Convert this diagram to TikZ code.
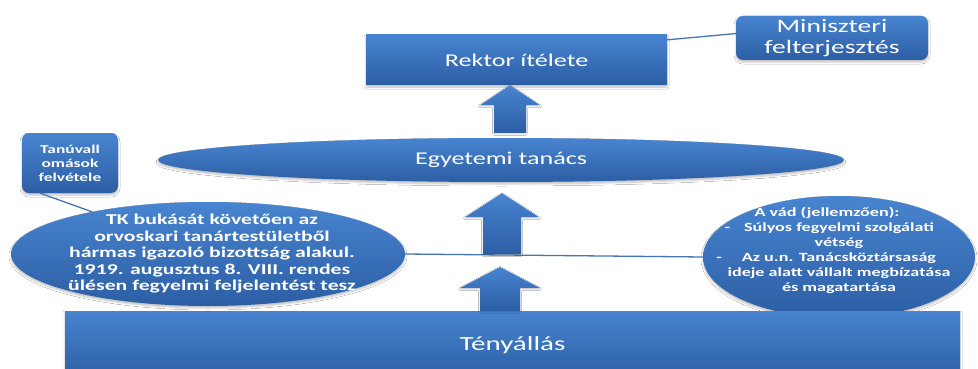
\documentclass[tikz,border=0pt]{standalone}
\usepackage{fontspec}
\setmainfont{Carlito}[FakeStretch=1.45]
\usetikzlibrary{calc,shapes.geometric,shadows.blur}

\definecolor{boxtop}{RGB}{72,132,208}
\definecolor{boxbottom}{RGB}{44,94,164}
\definecolor{linkblue}{RGB}{70,118,178}

\tikzset{
  panel/.style={top color=boxtop, bottom color=boxbottom, draw=none, text=white,
    blur shadow={shadow xshift=0pt, shadow yshift=-2pt, shadow blur radius=2pt, shadow opacity=25}},
  flatbox/.style={panel, rectangle, inner sep=0pt},
  roundbox/.style={panel, rectangle, rounded corners=7pt, inner sep=0pt},
  oval/.style={panel, ellipse, inner sep=0pt},
  inside/.style={text=white, align=center, inner sep=0pt},
  link/.style={draw=linkblue, line width=1.3pt},
  uparrow/.style={top color=boxtop, bottom color=boxbottom, draw=none,
    blur shadow={shadow xshift=0pt, shadow yshift=-1pt, shadow blur radius=1.5pt, shadow opacity=20}}
}

% block arrow: tip, foot, head length, head half width, shaft half width
\newcommand{\blockup}[5]{%
  \path[uparrow] (#1) -- ($(#1)+(#4,#3)$) -- ($(#1)+(#5,#3)$) -- ($(#2)+(#5,0)$)
    -- ($(#2)+(-#5,0)$) -- ($(#1)+(-#5,#3)$) -- ($(#1)+(-#4,#3)$) -- cycle;}

\begin{document}
\begin{tikzpicture}[x=1pt, y=-1pt]

% Frame of the picture
\useasboundingbox[fill=white] (0,0) rectangle (978,369);
\clip (0,0) rectangle (978,369);

% Boxes and ovals
\node[flatbox, minimum width=301pt, minimum height=50pt, font=\fontsize{18}{20}\selectfont] (rektor) at (516.5,60) {Rektor ítélete};
\node[roundbox, minimum width=192pt, minimum height=44pt, font=\fontsize{19}{21}\selectfont, align=center] (minis) at (832,38) {Miniszteri\\felterjesztés};
\node[oval, minimum width=686pt, minimum height=44pt, font=\fontsize{18}{20}\selectfont] (tanacs) at (501,160) {Egyetemi tanács};
\node[roundbox, minimum width=96pt, minimum height=60pt, font=\bfseries\fontsize{12}{14}\selectfont, align=center] (tanu) at (70,163) {Tanúvall\\omások\\felvétele};

\node[oval, minimum width=394pt, minimum height=104pt] (bizottsag) at (208,254) {};
\node[inside, font=\bfseries\fontsize{15}{16.5}\selectfont] (bizottsagszoveg) at (212,254)
  {TK bukását követően az\\orvoskari tanártestületből\\hármas igazoló bizottság alakul.\\1919. augusztus 8. VIII. rendes\\ülésen fegyelmi feljelentést tesz};

\node[oval, minimum width=272pt, minimum height=122pt] (vad) at (839,257) {};
\node[inside, font=\bfseries\fontsize{12.5}{15}\selectfont] (vadszoveg) at (839,250)
  {A vád (jellemzően):\kern 24pt\\
   \llap{-\hspace{14pt}}Súlyos fegyelmi szolgálati\\
   vétség\\
   \llap{-\hspace{20pt}}Az u.n. Tanácsköztársaság\\
   ideje alatt vállalt megbízatása\\
   és magatartása};

\node[flatbox, minimum width=895pt, minimum height=68pt, font=\fontsize{20}{22}\selectfont] (tenyallas) at (512.5,345) {Tényállás};

% Connectors
\draw[link] ($(rektor.north east)!0.1!(rektor.south east)$) -- ($(minis.north west)!0.4!(minis.south west)$);
\draw[link] ($(tanu.south west)!0.19!(tanu.south east)$) -- (bizottsag.160);
\draw[link] (bizottsag.east) -- (vad.west);

% Block arrows
\coordinate (a1tip) at (510,0 |- rektor.south);
\coordinate (a1foot) at ($(510,0 |- tanacs.north)+(0,-5)$);
\coordinate (a2tip) at ($(502,0 |- tanacs.south)+(0,11)$);
\coordinate (a2foot) at (502,0 |- bizottsag.east);
\coordinate (a3tip) at (500,267);
\coordinate (a3foot) at (500,0 |- tenyallas.north);

\blockup{a1tip}{a1foot}{20}{30}{16}
\blockup{a2tip}{a2foot}{24}{37}{19}
\blockup{a3tip}{a3foot}{21}{40}{20}

\end{tikzpicture}
\end{document}
